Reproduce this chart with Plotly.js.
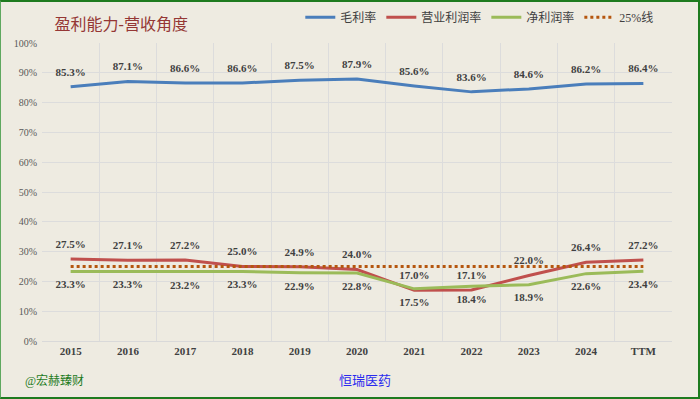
<!DOCTYPE html>
<html>
<head>
<meta charset="utf-8">
<script src="https://cdn.plot.ly/plotly-3.0.1.min.js"></script>
<style>
html,body{margin:0;padding:0;background:#EEEBE1;}
#wrap{position:relative;width:700px;height:399px;}
#chart{width:700px;height:399px;}
#frame{position:absolute;left:0;top:0;width:700px;height:399px;box-sizing:border-box;border:2px solid #1E7B1E;border-left:1px solid #5FA85F;pointer-events:none;}
</style>
</head>
<body>
<div id="wrap"><div id="chart"></div><div id="frame"></div></div>
<script>
const categories = ['2015','2016','2017','2018','2019','2020','2021','2022','2023','2024','TTM'];
const grossMargin = [85.3, 87.1, 86.6, 86.6, 87.5, 87.9, 85.6, 83.6, 84.6, 86.2, 86.4];
const operatingMargin = [27.5, 27.1, 27.2, 25.0, 24.9, 24.0, 17.0, 17.1, 22.0, 26.4, 27.2];
const netMargin = [23.3, 23.3, 23.2, 23.3, 22.9, 22.8, 17.5, 18.4, 18.9, 22.6, 23.4];
const line25 = [25, 25, 25, 25, 25, 25, 25, 25, 25, 25, 25];

const xs = categories.map((c, i) => i);
const fmt = v => v.toFixed(1) + '%';
const labelFont = {family: 'Liberation Serif, Noto Sans CJK SC, serif', size: 11, color: '#404040', weight: 'bold'};
const ghost = {size: 12, color: 'rgba(0,0,0,0)'};

const traces = [
  {x: xs, y: grossMargin, name: '毛利率', mode: 'lines+markers+text', line: {color: '#4A7EBB', width: 3}, marker: ghost,
   text: grossMargin.map(fmt), textposition: 'top center', textfont: labelFont, hoverinfo: 'skip'},
  {x: xs, y: operatingMargin, name: '营业利润率', mode: 'lines+markers+text', line: {color: '#C0504D', width: 3}, marker: ghost,
   text: operatingMargin.map(fmt), textposition: 'top center', textfont: labelFont, hoverinfo: 'skip'},
  {x: xs, y: netMargin, name: '净利润率', mode: 'lines+markers+text', line: {color: '#9BBB59', width: 3}, marker: ghost,
   text: netMargin.map(fmt), textposition: 'bottom center', textfont: labelFont, hoverinfo: 'skip'},
  {x: xs, y: line25, name: '25%线', mode: 'lines', line: {color: '#B5560E', width: 3, dash: 'dot'}, hoverinfo: 'skip'}
];

const layout = {
  width: 700, height: 399,
  paper_bgcolor: '#EEEBE1', plot_bgcolor: '#EEEBE1',
  margin: {l: 42, r: 28, t: 43, b: 58, autoexpand: false},
  title: {text: '盈利能力-营收角度', x: 0.078, xanchor: 'left', y: 0.94, yanchor: 'middle',
          font: {family: 'Liberation Serif, Noto Sans CJK SC, serif', size: 16, color: '#953735'}},
  showlegend: true,
  legend: {orientation: 'h', x: 0.41, xanchor: 'left', yref: 'container', y: 0.957, yanchor: 'middle',
           font: {family: 'Liberation Serif, Noto Sans CJK SC, serif', size: 12, color: '#404040'},
           bgcolor: 'rgba(0,0,0,0)', itemwidth: 30, tracegroupgap: 0},
  xaxis: {type: 'linear', range: [-0.5, 10.5], tickmode: 'array', tickvals: xs, ticktext: categories,
          showgrid: false, zeroline: false, showline: true, linecolor: '#D9D9D9', ticks: '',
          tickfont: {family: 'Liberation Serif, serif', size: 11, color: '#404040', weight: 'bold'},
          minor: {tickmode: 'linear', tick0: -0.5, dtick: 1, showgrid: true, gridcolor: '#DCDCDC', gridwidth: 1, ticks: ''},
          fixedrange: true},
  yaxis: {range: [0, 100], tickmode: 'linear', tick0: 0, dtick: 10, ticksuffix: '%',
          showgrid: true, gridcolor: '#DCDCDC', zeroline: false, showline: false,
          tickfont: {family: 'Liberation Serif, serif', size: 10, color: '#595959'}, ticklabelstandoff: 4,
          fixedrange: true},
  annotations: [
    {text: '@宏赫臻财', xref: 'paper', yref: 'paper', x: -0.03, y: -0.134, xanchor: 'left', yanchor: 'middle',
     showarrow: false, font: {family: 'Liberation Serif, Noto Sans CJK SC, serif', size: 12, color: '#1E7B1E'}},
    {text: '恒瑞医药', xref: 'paper', yref: 'paper', x: 0.513, y: -0.134, xanchor: 'center', yanchor: 'middle',
     showarrow: false, font: {family: 'Liberation Serif, Noto Sans CJK SC, serif', size: 13, color: '#2B2BEF'}}
  ]
};

Plotly.newPlot('chart', traces, layout, {displayModeBar: false, staticPlot: true});
</script>
</body>
</html>
